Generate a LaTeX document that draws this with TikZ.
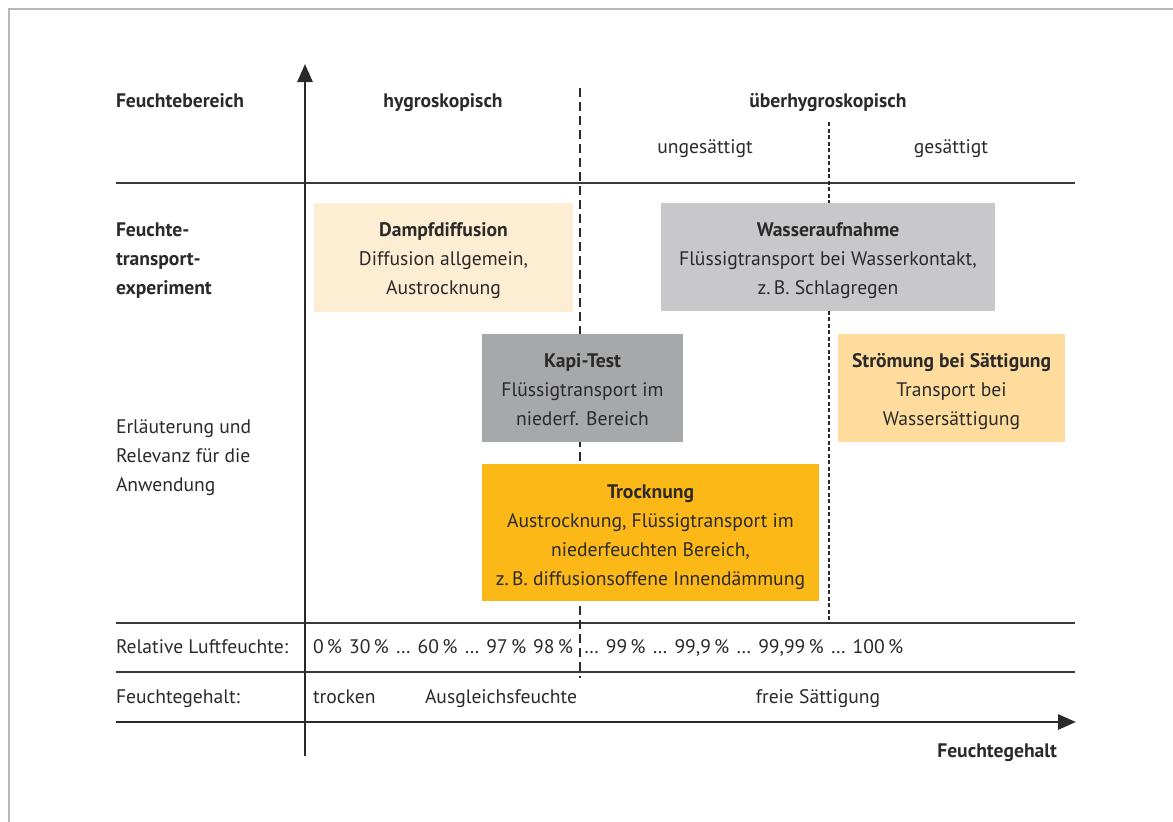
\documentclass[tikz,border=0pt]{standalone}
\usepackage{fontspec}
\setmainfont{PT Sans}
\usetikzlibrary{arrows.meta}
\definecolor{txt}{HTML}{2B2A29}
\definecolor{ln}{HTML}{3A3A3A}
\definecolor{frm}{HTML}{B8B8B8}
\definecolor{cream}{HTML}{FDEED3}
\definecolor{lgray}{HTML}{C8C8CA}
\definecolor{mgray}{HTML}{A7A8AA}
\definecolor{lorange}{HTML}{FEDC9D}
\definecolor{orange}{HTML}{FBB817}
\newcommand{\gp}{\hspace{7pt}}
\begin{document}
\begin{tikzpicture}[x=1pt,y=-1pt,
  every node/.style={inner sep=0pt,outer sep=0pt,text=txt,font=\fontsize{19.6}{29}\selectfont},
  lbl/.style={anchor=base west},
  clbl/.style={anchor=base},
  bold/.style={font=\fontsize{19.6}{29}\selectfont\bfseries},
  boxx/.style={anchor=north west,align=center},
  hline/.style={draw=ln,line width=1.3pt},
  axis/.style={draw=txt,line width=2.6pt,-{Triangle[length=18pt,width=15pt]}}
]
\useasboundingbox (0,0) rectangle (1173,822);
% frame
\draw[frm,line width=1.6pt] (9,822) -- (9,9) -- (1173,9);
% coordinates
\coordinate (hl1a) at (116,183); \coordinate (hl1b) at (1075,183);
\coordinate (hl2a) at (116,623); \coordinate (hl2b) at (1075,623);
\coordinate (hl3a) at (116,672); \coordinate (hl3b) at (1075,672);
\coordinate (xa) at (116,722); \coordinate (xb) at (1076,722);
\coordinate (ya) at (305,756); \coordinate (yb) at (305,64);
\coordinate (d1a) at (580,88); \coordinate (d1b) at (580,678);
\coordinate (d2a) at (829,122); \coordinate (d2b) at (829,623);
% lines
\draw[hline] (hl1a) -- (hl1b);
\draw[hline] (hl2a) -- (hl2b);
\draw[hline] (hl3a) -- (hl3b);
\draw[txt,line width=2.6pt,dash pattern=on 9pt off 5pt] (d1a) -- (d1b);
\draw[txt,line width=1.1pt,dash pattern=on 4pt off 2.5pt] (d2a) -- (d2b);
\draw[axis] (xa) -- (xb);
\draw[axis] (ya) -- (yb);
% boxes
\node[boxx,fill=cream,minimum width=259pt,minimum height=109pt] (dampf) at (314,203) {};
\node[bold,clbl] (dampft) at (443.5,236) {Dampfdiffusion};
\node[clbl] (dampf1) at (443.5,265) {Diffusion allgemein,};
\node[clbl] (dampf2) at (443.5,294) {Austrocknung};

\node[boxx,fill=lgray,minimum width=334pt,minimum height=108pt] (wasser) at (661,203) {};
\node[bold,clbl] (wassert) at (828,236) {Wasseraufnahme};
\node[clbl] (wasser1) at (828,265) {Flüssigtransport bei Wasserkontakt,};
\node[clbl] (wasser2) at (828,294) {z.\,B. Schlagregen};

\node[boxx,fill=mgray,minimum width=201pt,minimum height=108pt] (kapi) at (482,334) {};
\node[bold,clbl] (kapit) at (582.5,367) {Kapi-Test};
\node[clbl] (kapi1) at (582.5,396) {Flüssigtransport im};
\node[clbl] (kapi2) at (582.5,425) {niederf. Bereich};

\node[boxx,fill=lorange,minimum width=227pt,minimum height=108pt] (stroem) at (838,334) {};
\node[bold,clbl] (stroemt) at (951.5,367) {Strömung bei Sättigung};
\node[clbl] (stroem1) at (951.5,396) {Transport bei};
\node[clbl] (stroem2) at (951.5,425) {Wassersättigung};

\node[boxx,fill=orange,minimum width=337pt,minimum height=137pt] (trock) at (482,464) {};
\node[bold,clbl] (trockt) at (650.5,498) {Trocknung};
\node[clbl] (trock1) at (650.5,527) {Austrocknung, Flüssigtransport im};
\node[clbl] (trock2) at (650.5,556) {niederfeuchten Bereich,};
\node[clbl] (trock3) at (650.5,585) {z.\,B. diffusionsoffene Innendämmung};
% header texts
\node[bold,lbl] (fb) at (116,107) {Feuchtebereich};
\node[bold,clbl] (hyg) at (443,107) {hygroskopisch};
\node[bold,clbl] (uhyg) at (828,107) {überhygroskopisch};
\node[clbl] (unges) at (705,153) {ungesättigt};
\node[clbl] (ges) at (951,153) {gesättigt};
\node[bold,lbl] (fte1) at (116,236) {Feuchte-};
\node[bold,lbl] (fte2) at (116,265) {transport-};
\node[bold,lbl] (fte3) at (116,294) {experiment};
\node[lbl] (erl1) at (116,433) {Erläuterung und};
\node[lbl] (erl2) at (116,462) {Relevanz für die};
\node[lbl] (erl3) at (116,491) {Anwendung};
% rows
\node[lbl] (rlf) at (116,653) {Relative Luftfeuchte:};
\node[lbl] (fg) at (116,703) {Feuchtegehalt:};
\node[lbl] (rlfl) at (313,653) {0\,\%\gp 30\,\%\gp …\gp 60\,\%\gp …\gp 97\,\%\gp 98\,\%};
\node[lbl] (rlfr) at (584,653) {…\gp 99\,\%\gp …\gp 99,9\,\%\gp …\gp 99,99\,\%\gp …\gp 100\,\%};
\node[lbl] (tro) at (313,703) {trocken};
\node[lbl] (ausg) at (425,703) {Ausgleichsfeuchte};
\node[clbl] (frs) at (818,703) {freie Sättigung};
\node[bold,anchor=base east] (fgax) at (1057,757) {Feuchtegehalt};
\end{tikzpicture}
\end{document}
